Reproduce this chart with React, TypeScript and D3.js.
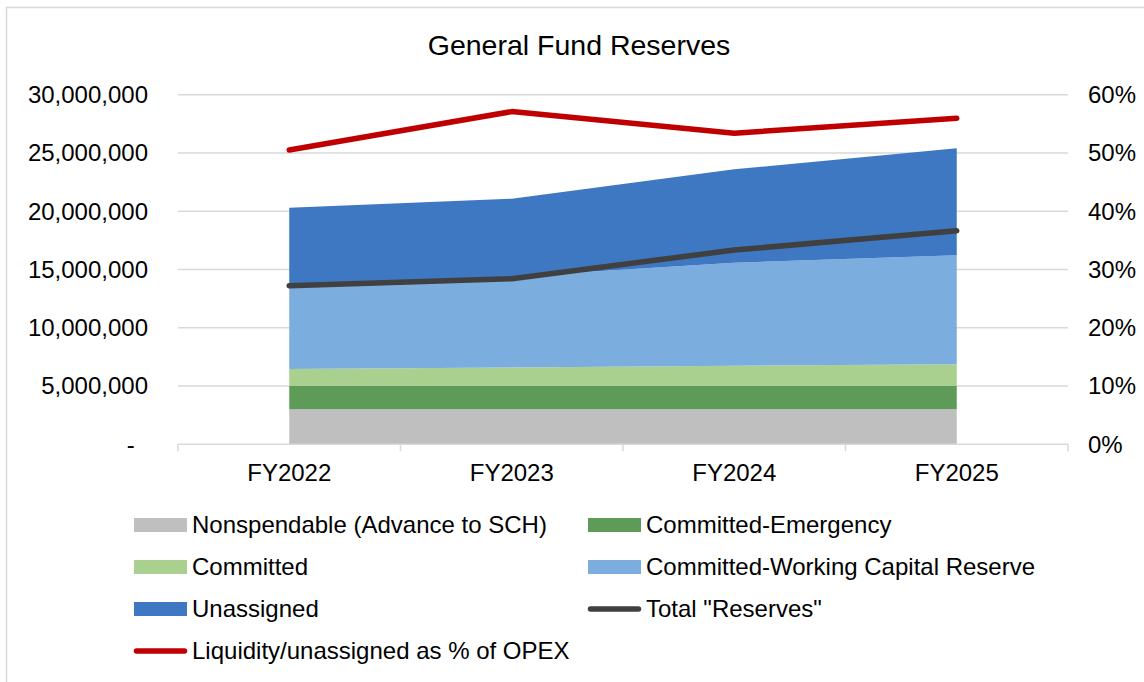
import React from "react";
import * as d3 from "d3";

const categories = ["FY2022", "FY2023", "FY2024", "FY2025"];
const nonspendable = [3000000, 3000000, 3000000, 3000000];
const committedEmergency = [2000000, 2000000, 2000000, 2000000];
const committed = [1460000, 1600000, 1750000, 1860000];
const workingCapital = [7040000, 7800000, 8830000, 9360000];
const unassigned = [6800000, 6680000, 8020000, 9180000];
const totalReserves = [13610000, 14210000, 16670000, 18330000];
const liquidityPct = [0.505, 0.571, 0.534, 0.5595];
const leftTicks = [0, 5000000, 10000000, 15000000, 20000000, 25000000, 30000000];
const rightTicks = [0, 0.1, 0.2, 0.3, 0.4, 0.5, 0.6];

const areaSeries = [
  { name: "Nonspendable (Advance to SCH)", values: nonspendable, color: "#BFBFBF" },
  { name: "Committed-Emergency", values: committedEmergency, color: "#5E9A58" },
  { name: "Committed", values: committed, color: "#A9D08E" },
  { name: "Committed-Working Capital Reserve", values: workingCapital, color: "#7BAEDE" },
  { name: "Unassigned", values: unassigned, color: "#3E78C2" },
];
const lineSeries = [
  { name: "Total \"Reserves\"", values: totalReserves, color: "#404040", axis: "left" },
  { name: "Liquidity/unassigned as % of OPEX", values: liquidityPct, color: "#C00000", axis: "right" },
];

const W = 1144;
const H = 682;
const FONT = "'Liberation Sans', Arial, sans-serif";

export default function App() {
  const x = d3.scaleBand<string>().domain(categories).range([178, 1068]).padding(0);
  const cx = (c: string) => (x(c) as number) + x.bandwidth() / 2;
  const yL = d3.scaleLinear().domain([0, 30000000]).range([444.3, 94.7]);
  const yR = d3.scaleLinear().domain([0, 0.6]).range([444.3, 94.7]);

  const rows = categories.map((c, i) => {
    const r: any = { cat: c };
    areaSeries.forEach((s) => (r[s.name] = s.values[i]));
    return r;
  });
  const stacked = d3.stack<any>().keys(areaSeries.map((s) => s.name))(rows);
  const area = d3
    .area<any>()
    .x((d) => cx(d.data.cat))
    .y0((d) => yL(d[0]))
    .y1((d) => yL(d[1]));

  const fmtL = (v: number) => (v === 0 ? "-\u2007" : d3.format(",")(v));
  const fmtR = d3.format(".0%");

  const boundaries = [...categories.map((c) => x(c) as number), 1068];

  const legendItems = [
    ...areaSeries.map((s) => ({ name: s.name, color: s.color, type: "rect" })),
    ...lineSeries.map((s) => ({ name: s.name, color: s.color, type: "line" })),
  ];
  const legendOrder = [0, 1, 2, 3, 4, 5, 6];
  const colX = [134, 588];
  const rowY = [525, 567, 609, 651];

  return (
    <svg
      width={W}
      height={H}
      style={{ position: "absolute", left: 0, top: 0, background: "#fff" }}
      fontFamily={FONT}
    >
      <rect x={0} y={0} width={W} height={H} fill="#fff" />
      <rect x={6.5} y={7.5} width={W + 20} height={H + 20} fill="none" stroke="#D9D9D9" strokeWidth={1.5} />
      <text x={579} y={55} fontSize={28.5} textAnchor="middle" fill="#000">
        General Fund Reserves
      </text>

      {leftTicks.slice(1).map((t) => (
        <line key={"g" + t} x1={178} x2={1068} y1={yL(t)} y2={yL(t)} stroke="#D9D9D9" strokeWidth={1.5} />
      ))}

      {stacked.map((s, i) => (
        <path key={s.key} d={area(s) as string} fill={areaSeries[i].color} />
      ))}

      <line x1={178} x2={1068} y1={yL(0)} y2={yL(0)} stroke="#D9D9D9" strokeWidth={1.5} />
      {boundaries.map((b, i) => (
        <line key={"t" + i} x1={b} x2={b} y1={yL(0)} y2={yL(0) + 7} stroke="#D9D9D9" strokeWidth={1.5} />
      ))}

      {lineSeries.map((s) => {
        const ys = s.axis === "left" ? yL : yR;
        const line = d3
          .line<number>()
          .x((_, i) => cx(categories[i]))
          .y((v) => ys(v));
        return (
          <path
            key={s.name}
            d={line(s.values) as string}
            fill="none"
            stroke={s.color}
            strokeWidth={5.5}
            strokeLinecap="round"
            strokeLinejoin="round"
          />
        );
      })}

      {leftTicks.map((t) => (
        <text key={"l" + t} x={148} y={yL(t)} dy="0.35em" fontSize={24} textAnchor="end" fill="#000">
          {fmtL(t)}
        </text>
      ))}
      {rightTicks.map((t) => (
        <text key={"r" + t} x={1088} y={yR(t)} dy="0.35em" fontSize={24} textAnchor="start" fill="#000">
          {fmtR(t)}
        </text>
      ))}
      {categories.map((c) => (
        <text key={c} x={cx(c)} y={481} fontSize={24} textAnchor="middle" fill="#000">
          {c}
        </text>
      ))}

      {legendOrder.map((idx, k) => {
        const item = legendItems[idx];
        const lx = colX[k % 2];
        const ly = rowY[Math.floor(k / 2)];
        return (
          <g key={item.name}>
            {item.type === "rect" ? (
              <rect x={lx} y={ly - 7} width={53} height={14} fill={item.color} />
            ) : (
              <line x1={lx + 2.5} x2={lx + 50.5} y1={ly} y2={ly} stroke={item.color} strokeWidth={5.5} strokeLinecap="round" />
            )}
            <text x={lx + 58} y={ly} dy="0.35em" fontSize={24} fill="#000">
              {item.name}
            </text>
          </g>
        );
      })}
    </svg>
  );
}
